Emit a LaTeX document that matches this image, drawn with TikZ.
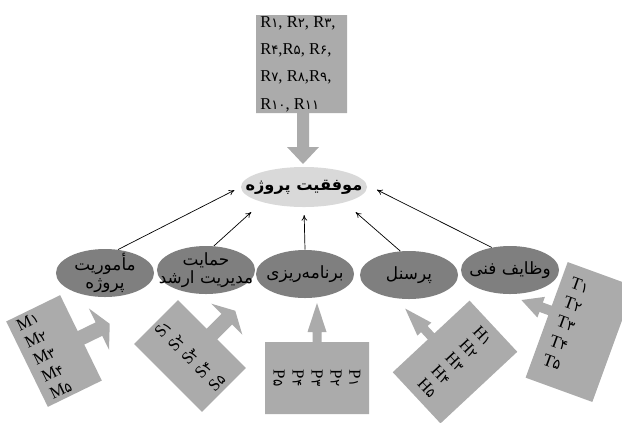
\documentclass[tikz,border=0pt]{standalone}
\usepackage{fontspec}
\setmainfont{Liberation Serif}
\newfontfamily\fa[Script=Arabic]{DejaVu Sans}
\newfontfamily\fadigits[Scale=0.8]{DejaVu Sans}
\TeXXeTstate=1
\usetikzlibrary{shapes.geometric}
\usetikzlibrary{arrows.meta}
\definecolor{boxgray}{HTML}{ABABAB}
\definecolor{factorgray}{HTML}{7F7F7F}
\definecolor{goalgray}{HTML}{D9D9D9}
\newcommand{\lab}[2]{#1{\fadigits #2}}

\begin{document}
\begin{tikzpicture}[x=0.025cm, y=-0.025cm,
    goalnode/.style={ellipse, fill=goalgray, minimum width=3.15cm, minimum height=1cm, inner xsep=-20pt, inner ysep=-6pt, font=\fa\bfseries\fontsize{11.5}{14}\selectfont},
    factor/.style={ellipse, fill=factorgray, minimum width=2.45cm, minimum height=1.2cm, inner xsep=-20pt, inner ysep=-10pt, align=center, font=\fa\fontsize{12}{12.5}\selectfont},
    link/.style={-{To[length=4pt,width=4pt]}, line width=0.5pt},
    boxtext/.style={transform shape, align=left, inner sep=0pt, font=\fontsize{12}{13.5}\selectfont}]
    \useasboundingbox (0,0) rectangle (622,422);
    \clip (0,0) rectangle (622,422);

    % requirements box with arrow down to the goal
    \fill[boxgray] (256,15) -- (347,15) -- (347,113) -- (309,113) -- (309,147) -- (319,147) -- (303,164) -- (287,147) -- (297,147) -- (297,113) -- (256,113) -- cycle;
    \node[boxtext, anchor=west, font=\fontsize{11.8}{19.5}\selectfont] (rlist) at (260,64) {\lab{R}{۱}, \lab{R}{۲}, \lab{R}{۳},\\\lab{R}{۴},\lab{R}{۵}, \lab{R}{۶},\\\lab{R}{۷}, \lab{R}{۸},\lab{R}{۹},\\\lab{R}{۱۰}, \lab{R}{۱۱}};

    % indicator boxes
    \begin{scope}[shift={(54,351)}, rotate=26]
        \fill[boxgray] (-30,-47.5) -- (30,-47.5) -- (30,-7.5) -- (50,-7.5) -- (50,-23) -- (62,0) -- (50,23) -- (50,7.5) -- (30,7.5) -- (30,47.5) -- (-30,47.5) -- cycle;
        \node[boxtext] (mlist) at (-11,0) {\lab{M}{۱}\\\lab{M}{۲}\\\lab{M}{۳}\\\lab{M}{۴}\\\lab{M}{۵}};
    \end{scope}
    \begin{scope}[shift={(190,356)}, rotate=45]
        \fill[boxgray] (-31,-48) -- (31,-48) -- (31,-7.5) -- (52,-7.5) -- (52,-22) -- (64,0) -- (52,22) -- (52,7.5) -- (31,7.5) -- (31,48) -- (-31,48) -- cycle;
        \node[boxtext] (slist) at (0,0) {\lab{S}{۱}\\\lab{S}{۲}\\\lab{S}{۳}\\\lab{S}{۴}\\\lab{S}{۵}};
    \end{scope}
    \begin{scope}[shift={(317,378)}, rotate=-90]
        \fill[boxgray] (-36,-52) -- (-36,-4.5) -- (-46,-4.5) -- (-46,-9.5) -- (-75,0) -- (-46,9.5) -- (-46,4.5) -- (-36,4.5) -- (-36,52) -- (36,52) -- (36,-52) -- cycle;
        \node[boxtext] (plist) at (0,0) {\lab{P}{۱}\\\lab{P}{۲}\\\lab{P}{۳}\\\lab{P}{۴}\\\lab{P}{۵}};
    \end{scope}
    \begin{scope}[shift={(455,362)}, rotate=-47]
        \fill[boxgray] (-35,-52.5) -- (-35,-4.5) -- (-45,-4.5) -- (-45,-9.5) -- (-73,0) -- (-45,9.5) -- (-45,4.5) -- (-35,4.5) -- (-35,52.5) -- (35,52.5) -- (35,-52.5) -- cycle;
        \node[boxtext] (hlist) at (0,0) {\lab{H}{۱}\\\lab{H}{۲}\\\lab{H}{۳}\\\lab{H}{۴}\\\lab{H}{۵}};
    \end{scope}
    \begin{scope}[shift={(580,332)}, rotate=-20]
        \fill[boxgray] (-35.5,-61.5) -- (-35.5,-15) -- (-45,-15) -- (-45,-21) -- (-66,-10) -- (-45,1) -- (-45,-5) -- (-35.5,-5) -- (-35.5,61.5) -- (35.5,61.5) -- (35.5,-61.5) -- cycle;
        \node[boxtext, font=\fontsize{12.5}{14.5}\selectfont] (tlist) at (-16,-3) {\lab{T}{۱}\\\lab{T}{۲}\\\lab{T}{۳}\\\lab{T}{۴}\\\lab{T}{۵}};
    \end{scope}

    % goal and success factors
    \node[goalnode] (goal) at (304,187) {\beginR موفقیت پروژه\endR};
    \node[factor] (mission) at (105,273) {\beginR مأموریت\endR\\\beginR پروژه\endR};
    \node[factor] (support) at (206,270) {\beginR حمایت\endR\\\beginR مدیریت ارشد\endR};
    \node[factor] (planning) at (305,274) {\beginR برنامه‌ریزی\endR};
    \node[factor] (staff) at (409,275) {\beginR پرسنل\endR};
    \node[factor] (tasks) at (510,270) {\beginR وظایف فنی\endR};

    \draw[link, shorten >=5pt] (mission.61) -- (goal.180);
    \draw[link, shorten >=10.5pt] (support.72) -- (goal.200);
    \draw[link, shorten >=5.5pt] (planning.north) -- (goal.south);
    \draw[link, shorten >=10.5pt] (staff.110) -- (goal.339);
    \draw[link, shorten >=8pt] (tasks.129) -- (goal.2);
\end{tikzpicture}
\end{document}
